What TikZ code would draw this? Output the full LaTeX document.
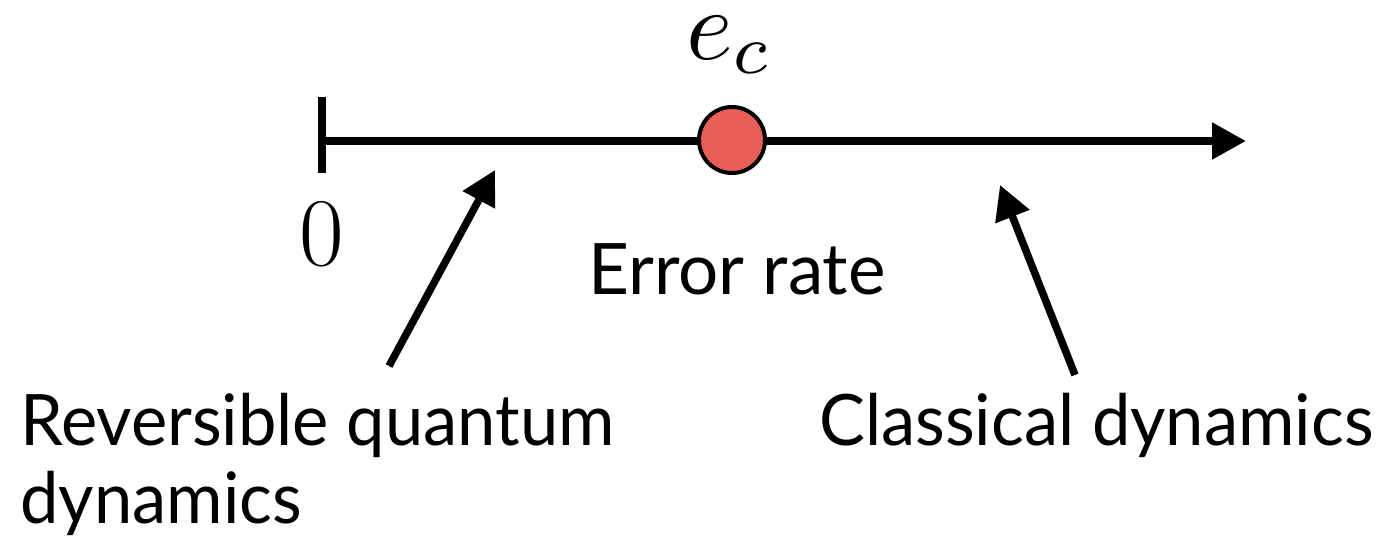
\documentclass[tikz,border=0pt]{standalone}
\usepackage{graphicx}
\usepackage{fontspec}
\setsansfont{Lato}
\newfontfamily\narrowsans[FakeStretch=0.967]{Lato}
\usetikzlibrary{arrows.meta}
\definecolor{dotred}{RGB}{235,94,88}
\begin{document}
\begin{tikzpicture}[x=1pt,y=-1pt,
  axis/.style={line width=8pt},
  ptr/.style={line width=7.5pt,-{Triangle[length=34pt,width=35pt]}},
  lbl/.style={font=\sffamily\fontsize{71}{78}\selectfont, inner sep=0pt, anchor=base west},
  nlbl/.style={font=\narrowsans\fontsize{71}{78}\selectfont, inner sep=0pt, anchor=base west},
  dot/.style={circle, draw, line width=4pt, fill=dotred, minimum size=66pt, inner sep=0pt}]
\useasboundingbox (0,0) rectangle (1378,544);
\coordinate (ticktop) at (322,97);
\coordinate (tickbot) at (322,173);
\coordinate (start) at (322,141);
\coordinate (end) at (1246,141);
\draw[axis] (ticktop) -- (tickbot);
\draw[axis,-{Triangle[length=34pt,width=35pt]}] (start) -- (end);
\node[dot] (ec) at (732,140) {};
\node[anchor=base, inner sep=0pt] (eclabel) at (730,59) {\scalebox{10}{$e_c$}};
\node[anchor=base, inner sep=0pt, font=\fontsize{97}{97}\selectfont] (zero) at (321.5,265) {0};
\node[lbl] (err) at (588,294) {Error rate};
\node[nlbl] (rev) at (20,445) {Reversible quantum};
\node[nlbl] (rev2) at (20,523) {dynamics};
\node[nlbl] (cls) at (819,445) {Classical dynamics};
\coordinate (qtail) at (389,366);
\coordinate (qtip) at (495,170);
\coordinate (ctail) at (1075,375);
\coordinate (ctip) at (1000,185);
\draw[ptr] (qtail) -- (qtip);
\draw[ptr] (ctail) -- (ctip);
\end{tikzpicture}
\end{document}
